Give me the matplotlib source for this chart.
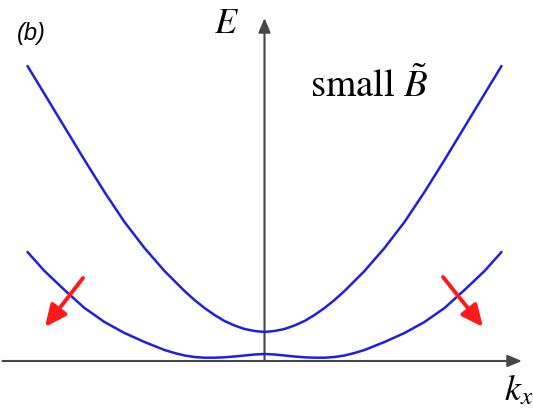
import numpy as np
import matplotlib
matplotlib.use("Agg")
import matplotlib.pyplot as plt
from matplotlib.patches import FancyArrowPatch

plt.rcParams["mathtext.fontset"] = "stix"

# Band energies sampled on k >= 0 (bands are symmetric in k)
k_half = [0.0, 0.1, 0.2, 0.3, 0.4, 0.5, 0.6, 0.7, 0.8, 0.9, 1.0,
          1.2, 1.4, 1.6, 1.8, 2.0, 2.2, 2.37]
upper_band = [0.29, 0.30, 0.32, 0.355, 0.40, 0.46, 0.53, 0.61, 0.70, 0.80, 0.90,
              1.13, 1.39, 1.69, 2.01, 2.34, 2.67, 2.95]
lower_band = [0.07, 0.065, 0.055, 0.045, 0.037, 0.033, 0.033, 0.04, 0.055, 0.08, 0.11,
              0.19, 0.28, 0.39, 0.53, 0.71, 0.90, 1.09]

panel_label = "(b)"
annotation = r"small $\tilde{B}$"
x_label = r"$k_x$"
y_label = r"$E$"


def mirrored(k, e):
    k = np.asarray(k)
    e = np.asarray(e)
    return np.concatenate([-k[::-1], k[1:]]), np.concatenate([e[::-1], e[1:]])


fig = plt.figure(figsize=(5.33, 4.09), dpi=100)
ax = fig.add_axes([0, 0, 1, 1])
ax.set_xlim(-2.645, 2.685)
ax.set_ylim(-0.48, 3.61)
ax.axis("off")

blue = "#1f1fe0"
for band in (upper_band, lower_band):
    kk, ee = mirrored(k_half, band)
    ax.plot(kk, ee, color=blue, lw=1.8, solid_capstyle="round", zorder=3)

axis_color = "#474747"
axis_style = "-|>,head_length=0.72,head_width=0.3"
ax.add_patch(FancyArrowPatch((-2.62, 0.0), (2.575, 0.0), arrowstyle=axis_style,
                             mutation_scale=12, color=axis_color, lw=1.5,
                             shrinkA=0, shrinkB=0, zorder=2))
ax.add_patch(FancyArrowPatch((0.0, 0.0), (0.0, 3.43), arrowstyle=axis_style,
                             mutation_scale=12, color=axis_color, lw=1.5,
                             shrinkA=0, shrinkB=0, zorder=2))

red = "#ff1a1a"
red_style = "-|>,head_length=0.65,head_width=0.3"
for tail, tip in (((-1.815, 0.83), (-2.195, 0.34)), ((1.785, 0.84), (2.185, 0.34))):
    ax.add_patch(FancyArrowPatch(tail, tip, arrowstyle=red_style, mutation_scale=20,
                                 color=red, lw=2.8, shrinkA=0, shrinkB=0, zorder=4))

ax.text(-0.505, 3.28, y_label, fontsize=26, ha="left", va="baseline")
ax.text(2.395, -0.39, x_label, fontsize=26, ha="left", va="baseline")
ax.text(0.455, 2.64, annotation, fontsize=28, ha="left", va="baseline",
        family="STIXGeneral")
ax.text(-2.48, 3.21, panel_label, fontsize=17, ha="left", va="baseline",
        family="Liberation Sans", style="italic")

fig.savefig("out.png", dpi=100)
